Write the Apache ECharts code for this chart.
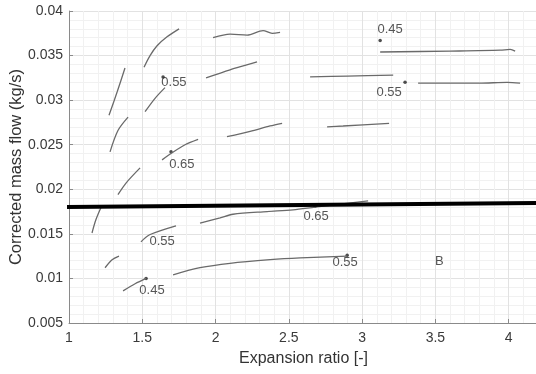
<!DOCTYPE html>
<html><head><meta charset="utf-8">
<script src="https://cdn.jsdelivr.net/npm/echarts@6/dist/echarts.min.js"></script>
<style>html,body{margin:0;padding:0;background:#fff}#c{width:536px;height:374px}</style>
</head><body><div id="c"></div>
<script>
// Axis ticks
const xTicks = [1, 1.5, 2, 2.5, 3, 3.5, 4];
const yTicks = [0.005, 0.01, 0.015, 0.02, 0.025, 0.03, 0.035, 0.04];

// Curve segments [expansion ratio, corrected mass flow]
const seg1 = [[1.273,0.0283],[1.33,0.0310],[1.382,0.0336]];
const seg2 = [[1.512,0.0337],[1.553,0.0350],[1.601,0.0361],[1.669,0.0371],[1.751,0.0380]];
const seg3 = [[1.983,0.0370],[2.099,0.0374],[2.215,0.0373],[2.324,0.0378],[2.386,0.0375],[2.44,0.0376]];
const seg4 = [[3.123,0.0354],[3.601,0.0355],[3.942,0.0356],[4.010,0.0357],[4.044,0.0355]];
const seg5 = [[1.519,0.0287],[1.587,0.0302],[1.655,0.0314]];
const seg6 = [[1.935,0.0325],[2.099,0.0334],[2.201,0.0339],[2.283,0.0343]];
const seg7 = [[2.645,0.0326],[2.9,0.0327],[3.212,0.0328]];
const seg8 = [[3.382,0.0319],[3.8,0.0319],[3.99,0.0320],[4.078,0.0319]];
const seg9 = [[1.28,0.0242],[1.334,0.0266],[1.403,0.0281]];
const seg10 = [[1.334,0.0194],[1.389,0.0207],[1.485,0.0224]];
const seg11 = [[1.635,0.0233],[1.703,0.0241],[1.792,0.0250],[1.881,0.0256]];
const seg12 = [[2.078,0.0259],[2.236,0.0265],[2.372,0.0271],[2.454,0.0274]];
const seg13 = [[2.761,0.0270],[2.870,0.0271],[3.184,0.0274]];
const seg14 = [[1.157,0.0151],[1.184,0.0166],[1.225,0.0182]];
const seg15 = [[1.246,0.0112],[1.294,0.0121],[1.341,0.0125]];
const seg16 = [[1.369,0.0086],[1.451,0.0094],[1.526,0.0100]];
const seg17 = [[1.491,0.0141],[1.55,0.0149],[1.730,0.0159]];
const seg18 = [[1.894,0.0162],[2.031,0.0168],[2.119,0.0172],[2.352,0.0175],[2.529,0.0177],[2.679,0.0180],[3.041,0.0187]];
const seg19 = [[1.71,0.0104],[1.894,0.0112],[2.099,0.0117],[2.372,0.0121],[2.577,0.0123],[2.898,0.0125]];
const segments = [seg1,seg2,seg3,seg4,seg5,seg6,seg7,seg8,seg9,seg10,seg11,seg12,seg13,seg14,seg15,seg16,seg17,seg18,seg19];

// Marker dots
const dots = [[3.123,0.0367],[1.642,0.0326],[3.293,0.0320],[1.696,0.0242],[2.679,0.0181],[1.526,0.0100],[2.898,0.0126]];

// Annotation texts and their anchor values
const noteText = ['0.45','0.55','0.55','0.65','0.65','0.55','0.55','0.45','B'];
const noteX = [3.191,1.716,3.184,1.770,2.686,1.635,2.884,1.566,3.526];
const noteY = [0.0379,0.0320,0.0309,0.0228,0.0170,0.0141,0.0118,0.0087,0.0119];

// Overlay thick line
const thickLine = [[0.529,0.01796],[4.19,0.01846]];

const chart = echarts.init(document.getElementById('c'), null, {renderer:'canvas'});
const series = segments.map(s => ({
  type:'line', data:s, showSymbol:false, smooth:0.3,
  lineStyle:{color:'#6a6a6a', width:1.3}, silent:true
}));
series.push({type:'scatter', data:dots, symbolSize:3.5, itemStyle:{color:'#222'}, silent:true});
series.push({
  type:'scatter', data:noteText.map((t,i)=>({value:[noteX[i],noteY[i]], name:t})),
  symbolSize:0,
  label:{show:true, position:'inside', formatter:p=>p.name, color:'#2a2a2a', fontSize:13, fontFamily:'Liberation Sans, Arial, sans-serif'},
  silent:true
});
series.push({type:'line', data:thickLine, showSymbol:false, clip:false, z:10,
  lineStyle:{color:'#000', width:4}, silent:true});

chart.setOption({
  animation:false,
  backgroundColor:'#fff',
  grid:{left:69, top:11, width:469, bottom:51, containLabel:false, outerBoundsMode:'none'},
  xAxis:{
    type:'value', min:1, max:4.2, interval:0.5,
    name:'Expansion ratio [-]', nameLocation:'middle', nameGap:28, nameMoveOverlap:false,
    nameTextStyle:{fontSize:16, color:'#333', fontFamily:'Liberation Sans, Arial, sans-serif'},
    axisLine:{show:true, lineStyle:{color:'#8a8a8a'}},
    axisTick:{show:true, inside:true, length:4, lineStyle:{color:'#8a8a8a'}},
    axisLabel:{fontSize:14, color:'#3a3a3a', margin:8, showMaxLabel:false, fontFamily:'Liberation Sans, Arial, sans-serif',
      formatter:v=> xTicks.includes(+v.toFixed(2)) ? String(+v.toFixed(2)) : ''},
    splitLine:{show:true, lineStyle:{color:'#e2e2e2', width:1}},
    minorTick:{show:false, splitNumber:5},
    minorSplitLine:{show:true, lineStyle:{color:'#f1f1f1', width:1}}
  },
  yAxis:{
    type:'value', min:0.005, max:0.04, interval:0.005,
    name:'Corrected mass flow (kg/s)', nameLocation:'middle', nameGap:44, nameMoveOverlap:false,
    nameTextStyle:{fontSize:16.5, color:'#333', fontFamily:'Liberation Sans, Arial, sans-serif'},
    axisLine:{show:true, lineStyle:{color:'#8a8a8a'}},
    axisTick:{show:true, inside:true, length:4, lineStyle:{color:'#8a8a8a'}},
    axisLabel:{fontSize:14, color:'#3a3a3a', margin:6, fontFamily:'Liberation Sans, Arial, sans-serif',
      formatter:v=>{const r=+v.toFixed(3); return yTicks.includes(r)?String(r):'';}},
    splitLine:{show:true, lineStyle:{color:'#e2e2e2', width:1}},
    minorTick:{show:false, splitNumber:5},
    minorSplitLine:{show:true, lineStyle:{color:'#f1f1f1', width:1}}
  },
  series:series
});
</script></body></html>
